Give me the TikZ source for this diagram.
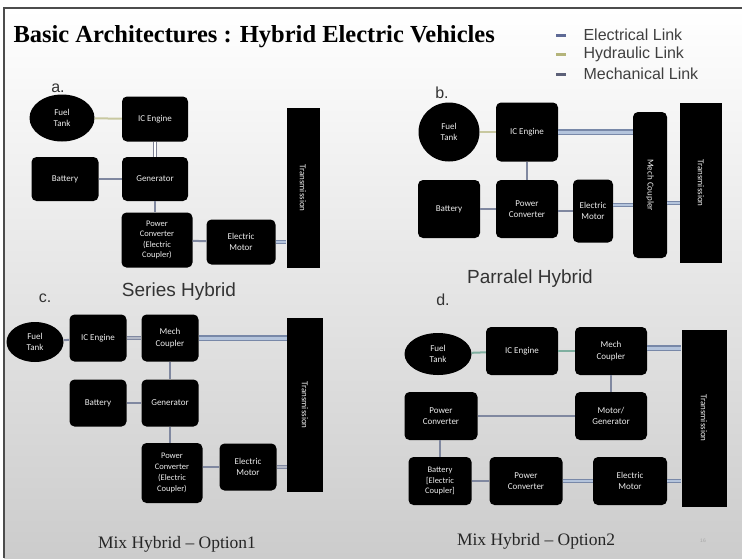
\documentclass[tikz,border=0pt]{standalone}
\usepackage{fontspec}
\usepackage{graphicx}
\setmainfont{Liberation Serif}
\setsansfont{Liberation Sans}
\newfontfamily\boxfont{Carlito}
\usetikzlibrary{calc,shapes.geometric}
\definecolor{elecC}{HTML}{5E6A96}
\definecolor{hydC}{HTML}{B4B47A}
\definecolor{mechC}{HTML}{5C6078}
\definecolor{lineE}{HTML}{8088A0}
\definecolor{lineM}{HTML}{7888A8}
\definecolor{lineMin}{HTML}{B4C4DC}
\definecolor{lineH}{HTML}{C8C8A0}
\definecolor{lineT}{HTML}{7FAFA0}
\definecolor{txtC}{HTML}{333333}
\tikzset{
  blk/.style={fill=black, rounded corners=5pt, text=white!85!gray, font=\boxfont\fontsize{9}{11.5}\selectfont, align=center, inner sep=1pt},
  sq/.style={blk, rounded corners=0pt},
  tank/.style={ellipse, fill=black, text=white!85!gray, font=\boxfont\fontsize{9}{11.5}\selectfont, align=center, inner sep=0pt},
  elec/.style={draw=lineE, line width=2pt},
  hyd/.style={draw=lineH, line width=2pt},
  teal/.style={draw=lineT, line width=2pt},
  mech/.style={draw=lineM, line width=1.2pt, double=lineMin, double distance=2.5pt},
  mechthin/.style={draw=mechC!80, line width=0.9pt, double=white, double distance=1.8pt},
  qlabel/.style={font=\sffamily\fontsize{16}{18}\selectfont, text=txtC},
  caplabel/.style={font=\sffamily\fontsize{19}{21}\selectfont, text=txtC},
  serlabel/.style={font=\fontsize{17.5}{19}\selectfont, text=black!85},
  legtext/.style={anchor=west, font=\sffamily\fontsize{16}{17}\selectfont, text=black!75}
}
\begin{document}
\begin{tikzpicture}[x=1pt,y=-1pt]
\useasboundingbox (0,0) rectangle (742,558);
% background slide
\shade[top color=white, middle color=gray!6, bottom color=gray!40] (4,8) rectangle (742,558);
\draw[black!70, line width=1.5pt] (4,558) -- (4,8) -- (742,8);

% title
\node[anchor=west, font=\bfseries\fontsize{24.5}{26}\selectfont] (title) at (10,37) {Basic Architectures : Hybrid Electric Vehicles};

% legend
\draw[elecC, line width=3pt] (556,35) -- (566,35);
\draw[hydC, line width=3pt] (556,54) -- (566,54);
\draw[mechC, line width=3pt] (556,74) -- (566,74);
\node[legtext] (l1) at (580,35) {Electrical Link};
\node[legtext] (l2) at (580,54) {Hydraulic Link};
\node[legtext] (l3) at (580,74) {Mechanical Link};

% ===== a. Series hybrid =====
\node[qlabel] (la) at (58,88) {a.};
\node[tank, minimum width=65pt, minimum height=47pt] (aft) at (62,118) {Fuel\\Tank};
\node[blk, minimum width=66pt, minimum height=45pt] (aic) at (155,119) {IC Engine};
\node[blk, minimum width=67pt, minimum height=44pt] (abat) at (65,179) {Battery};
\node[blk, minimum width=66pt, minimum height=44pt] (agen) at (155,179) {Generator};
\node[blk, minimum width=71pt, minimum height=55pt, font=\boxfont\fontsize{8.5}{10.5}\selectfont] (apc) at (157,240) {Power\\Converter\\(Electric\\Coupler)};
\node[blk, minimum width=69pt, minimum height=45pt] (aem) at (241,242) {Electric\\Motor};
\node[sq, rotate=-90, minimum width=160pt, minimum height=33pt] (atr) at (303,188) {Transmission};
\draw[hyd] (aft) -- (aic);
\draw[mechthin] (aic) -- (agen);
\draw[elec] (abat) -- (agen);
\draw[elec, line width=1.5pt] (agen.south -| aic) -- (apc.north -| aic);
\draw[elec] (apc) -- (aem);
\draw[mech] (aem.east) -- (atr.south |- aem.east);
\node[caplabel] (ta) at (179,292) {Series Hybrid};

% ===== b. Parallel hybrid =====
\node[qlabel] (lb) at (442,93) {b.};
\node[tank, minimum width=61pt, minimum height=59pt] (bft) at (449,132) {Fuel\\Tank};
\node[blk, minimum width=62pt, minimum height=59pt] (bic) at (527,132) {IC Engine};
\node[blk, minimum width=62pt, minimum height=58pt] (bbat) at (449,209) {Battery};
\node[blk, minimum width=62pt, minimum height=58pt] (bpc) at (527,209) {Power\\Converter};
\node[blk, minimum width=40pt, minimum height=63pt] (bem) at (593,211) {Electric\\Motor};
\node[blk, rotate=-90, minimum width=146pt, minimum height=34pt] (bmc) at (650,185) {Mech Coupler};
\node[sq, rotate=-90, minimum width=160pt, minimum height=42pt] (btr) at (701,183) {Transmission};
\draw[hyd] (bft) -- (bic);
\draw[mech, line width=1.5pt, double distance=3pt] (bic.east) -- (bmc.south |- bic.east);
\draw[elec, line width=1.5pt] (bic) -- (bpc);
\draw[elec] (bbat) -- (bpc);
\draw[elec] (bpc.east |- bem.west) -- (bem.west);
\draw[mech] ($(bem.east)+(0,-6)$) -- (bmc.south |- {$(bem.east)+(0,-6)$});
\draw[mech] (bmc.north |- {$(bem.east)+(0,-8)$}) -- (btr.south |- {$(bem.east)+(0,-8)$});
\node[caplabel] (tb) at (530,279) {Parralel Hybrid};

% ===== c. Mix hybrid option 1 =====
\node[qlabel] (lc) at (45,298) {c.};
\node[tank, minimum width=57pt, minimum height=40pt] (cft) at (35,342) {Fuel\\Tank};
\node[blk, minimum width=57pt, minimum height=47pt] (cic) at (98,338) {IC Engine};
\node[blk, minimum width=57pt, minimum height=47pt] (cmc) at (170,338) {Mech\\Coupler};
\node[blk, minimum width=57pt, minimum height=47pt] (cbat) at (98,403) {Battery};
\node[blk, minimum width=57pt, minimum height=47pt] (cgen) at (170,403) {Generator};
\node[blk, minimum width=61pt, minimum height=60pt, font=\boxfont\fontsize{8.5}{11}\selectfont] (cpc) at (172,473) {Power\\Converter\\(Electric\\Coupler)};
\node[blk, minimum width=57pt, minimum height=47pt] (cem) at (248,467) {Electric\\Motor};
\node[sq, rotate=-90, minimum width=174pt, minimum height=36pt] (ctr) at (305,405) {Transmission};
\draw[elec] (cft) -- (cic);
\draw[mech, draw=lineE, double=lineE!60] (cic) -- (cmc);
\draw[mech, line width=1.5pt, double distance=3pt] (cmc.east) -- (ctr.south |- cmc.east);
\draw[elec, line width=1.5pt] (cmc) -- (cgen);
\draw[elec] (cbat) -- (cgen);
\draw[elec, line width=1.5pt] (cgen.south -| cmc) -- (cpc.north -| cmc);
\draw[elec] (cpc.east |- cem.west) -- (cem.west);
\draw[mech, draw=lineE, double=lineE!60] (cem.east) -- (ctr.south |- cem.east);
\node[serlabel] (tc) at (177,544) {Mix Hybrid -- Option1};

% ===== d. Mix hybrid option 2 =====
\node[qlabel] (ld) at (443,300) {d.};
\node[tank, minimum width=67pt, minimum height=42pt] (dft) at (438,354) {Fuel\\Tank};
\node[blk, minimum width=72pt, minimum height=48pt] (dic) at (522,351) {IC Engine};
\node[blk, minimum width=72pt, minimum height=48pt] (dmc) at (611,351) {Mech\\Coupler};
\node[blk, minimum width=73pt, minimum height=48pt] (dpc) at (441,416) {Power\\Converter};
\node[blk, minimum width=72pt, minimum height=48pt] (dmg) at (611,416) {Motor/\\Generator};
\node[blk, minimum width=63pt, minimum height=48pt, font=\boxfont\fontsize{8.5}{10.5}\selectfont] (dbat) at (440,481) {Battery\\{[}Electric\\Coupler{]}};
\node[blk, minimum width=73pt, minimum height=48pt] (dpc2) at (526,481) {Power\\Converter};
\node[blk, minimum width=74pt, minimum height=48pt] (dem) at (630,481) {Electric\\Motor};
\node[sq, rotate=-90, minimum width=177pt, minimum height=45pt] (dtr) at (704,418) {Transmission};
\draw[teal] (dft) -- (dic);
\draw[teal] (dic) -- (dmc);
\draw[mech, line width=1.5pt, double distance=3pt] ($(dmc.east)+(0,-3)$) -- (dtr.south |- {$(dmc.east)+(0,-3)$});
\draw[elec, line width=1.5pt] (dmc) -- (dmg);
\draw[elec] (dpc) -- (dmg);
\draw[elec, line width=1.5pt] (dpc.south -| dbat) -- (dbat.north);
\draw[elec] (dbat) -- (dpc2);
\draw[mech] (dpc2) -- (dem);
\draw[mech] (dem.east) -- (dtr.south |- dem.east);
\node[serlabel] (td) at (536,541) {Mix Hybrid -- Option2};
\node[font=\sffamily\fontsize{5}{6}\selectfont, text=gray!70] (pg) at (703,541) {16};
\end{tikzpicture}
\end{document}
